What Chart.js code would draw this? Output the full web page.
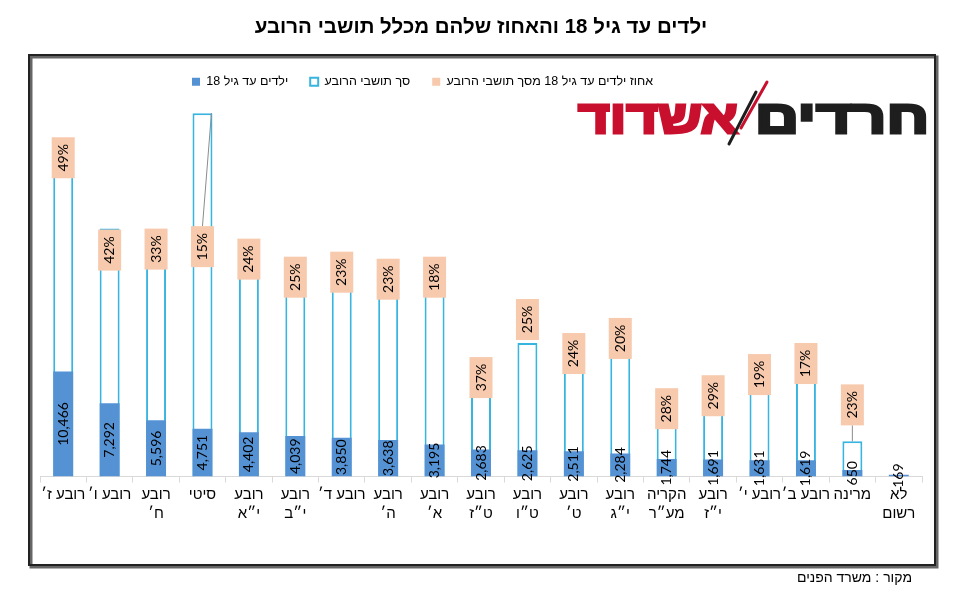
<!DOCTYPE html>
<html lang="he">
<head>
<meta charset="utf-8">
<title>ילדים עד גיל 18 והאחוז שלהם מכלל תושבי הרובע</title>
<script src="https://cdn.jsdelivr.net/npm/chart.js@4.4.0/dist/chart.umd.min.js"></script>
<style>
  html, body { margin: 0; padding: 0; background: #fff; }
  #wrap { position: relative; width: 959px; height: 606px; }
</style>
</head>
<body>
<div id="wrap"><canvas id="kidsChart"></canvas></div>
<script>
// categories, left to right as in the source
const categories = [
    'רובע ז׳', 'רובע ו׳', ['רובע', 'ח׳'], 'סיטי', ['רובע', 'י״א'], ['רובע', 'י״ב'],
    'רובע ד׳', ['רובע', 'ה׳'], ['רובע', 'א׳'], ['רובע', 'ט״ז'], ['רובע', 'ט״ו'],
    ['רובע', 'ט׳'], ['רובע', 'י״ג'], ['הקריה', 'מע״ר'], ['רובע', 'י״ז'],
    'רובע י׳', 'רובע ב׳', 'מרינה', ['לא', 'רשום']
];
// children up to age 18
const children = [10466, 7292, 5596, 4751, 4402, 4039, 3850, 3638, 3195, 2683,
                  2625, 2511, 2284, 1744, 1691, 1631, 1619, 650, 169];
// total residents
const residents = [33200, 24700, 24100, 36200, 23100, 21300, 21800, 21100, 21300, 11300,
                   13300, 13700, 15200, 8200, 7500, 11600, 12700, 3500, null];
// share of children, %
const shares = [49, 42, 33, 15, 24, 25, 23, 23, 18, 37,
                25, 24, 20, 28, 29, 19, 17, 23, null];

const BLUE = '#5592d4';
const CYAN = '#37b4e0';
const PEACH = '#f7c9ad';

// squeeze a word into a given width, right aligned
function fitText(ctx, text, right, baseline, width, color) {
    const w = ctx.measureText(text).width;
    ctx.save();
    ctx.translate(right, baseline);
    ctx.scale(width / w, 1);
    ctx.fillStyle = color;
    ctx.strokeStyle = color;
    ctx.lineWidth = 3;
    ctx.lineJoin = 'miter';
    ctx.fillText(text, 0, 0);
    ctx.strokeText(text, 0, 0);
    ctx.restore();
}

// frame, logo and white background behind everything
const framePlugin = {
    id: 'frame',
    beforeDraw(chart) {
        const ctx = chart.ctx;
        ctx.save();
        ctx.fillStyle = '#fff';
        ctx.fillRect(0, 0, chart.width, chart.height);
        // shadow then border
        ctx.strokeStyle = '#666';
        ctx.lineWidth = 3;
        ctx.strokeRect(31, 57, 906, 510);
        ctx.strokeStyle = '#222';
        ctx.lineWidth = 2;
        ctx.strokeRect(29, 55, 906, 510);

        // site logo
        ctx.textBaseline = 'alphabetic';
        ctx.textAlign = 'right';
        ctx.font = 'bold 47px "Liberation Sans", "DejaVu Sans", sans-serif';
        fitText(ctx, 'חרדים', 929, 133, 174, '#1e1e1e');
        fitText(ctx, 'אשדוד', 738, 133, 160, '#c8102e');
        ctx.lineCap = 'round';
        ctx.lineWidth = 3;
        ctx.strokeStyle = '#1e1e1e';
        ctx.beginPath();
        ctx.moveTo(756, 92);
        ctx.lineTo(729, 144);
        ctx.stroke();
        ctx.strokeStyle = '#c8102e';
        ctx.beginPath();
        ctx.moveTo(767, 82);
        ctx.lineTo(741, 128);
        ctx.stroke();
        ctx.restore();
    }
};

// move the legend to where the original sits
const legendShiftPlugin = {
    id: 'legendShift',
    afterLayout(chart) {
        const lg = chart.legend;
        if (lg) { lg.left += 130; lg.right += 130; }
    }
};

// value labels: children inside blue bars, shares in peach boxes
const valueLabelsPlugin = {
    id: 'valueLabels',
    afterDatasetsDraw(chart, args, opts) {
        const ctx = chart.ctx;
        const kids = chart.getDatasetMeta(0);
        const tot = chart.getDatasetMeta(1);
        ctx.save();
        ctx.textAlign = 'center';
        ctx.textBaseline = 'middle';
        ctx.font = '14px Lato, "Liberation Sans", sans-serif';
        ctx.fillStyle = '#000';

        kids.data.forEach((bar, i) => {
            const p = bar.getProps(['x', 'y', 'base'], true);
            ctx.save();
            ctx.translate(p.x, (p.y + p.base) / 2);
            ctx.rotate(-Math.PI / 2);
            ctx.fillText(children[i].toLocaleString('en-US'), 0, 0);
            ctx.restore();
        });

        tot.data.forEach((bar, i) => {
            if (shares[i] == null || residents[i] == null) return;
            const p = bar.getProps(['x', 'y', 'width'], true);
            const nudge = opts.nudge[i] !== undefined ? opts.nudge[i] : opts.defaultNudge;
            const top = p.y + nudge;
            const bw = 23, bh = 41;
            if (opts.leaders[i] !== undefined) {
                const edgeY = top > p.y ? top : top + bh;
                ctx.strokeStyle = '#8c8c8c';
                ctx.lineWidth = 1;
                ctx.beginPath();
                ctx.moveTo(p.x, edgeY);
                ctx.lineTo(p.x + opts.leaders[i] * p.width / 2, p.y);
                ctx.stroke();
            }
            ctx.fillStyle = PEACH;
            ctx.fillRect(p.x - bw / 2, top, bw, bh);
            ctx.fillStyle = '#000';
            ctx.save();
            ctx.translate(p.x, top + bh / 2);
            ctx.rotate(-Math.PI / 2);
            ctx.fillText(shares[i] + '%', 0, 0);
            ctx.restore();
        });
        ctx.restore();
    }
};

const sourcePlugin = {
    id: 'source',
    afterDraw(chart) {
        const ctx = chart.ctx;
        ctx.save();
        ctx.font = '14px "Liberation Sans", sans-serif';
        ctx.fillStyle = '#000';
        ctx.textAlign = 'right';
        ctx.textBaseline = 'middle';
        ctx.fillText('מקור : משרד הפנים', 912, 578);
        ctx.restore();
    }
};

document.addEventListener('DOMContentLoaded', () => {
    const ctx = document.getElementById('kidsChart').getContext('2d');
    new Chart(ctx, {
        data: {
            labels: categories,
            datasets: [
                {
                    type: 'bar',
                    label: 'ילדים עד גיל 18',
                    data: children,
                    backgroundColor: BLUE,
                    borderWidth: 0,
                    grouped: false,
                    barPercentage: 0.43,
                    categoryPercentage: 1
                },
                {
                    type: 'bar',
                    label: 'סך תושבי הרובע',
                    data: residents,
                    backgroundColor: '#fff',
                    borderColor: CYAN,
                    borderWidth: 2,
                    grouped: false,
                    barPercentage: 0.43,
                    categoryPercentage: 1
                },
                {
                    type: 'line',
                    label: 'אחוז ילדים עד גיל 18 מסך תושבי הרובע',
                    data: shares,
                    yAxisID: 'yPct',
                    showLine: false,
                    pointRadius: 0,
                    pointHoverRadius: 0,
                    backgroundColor: PEACH,
                    borderColor: PEACH,
                    borderWidth: 0
                }
            ]
        },
        options: {
            responsive: true,
            maintainAspectRatio: false,
            animation: false,
            layout: { padding: { left: 40, right: 37, bottom: 80 } },
            scales: {
                x: {
                    grid: { offset: true, drawOnChartArea: false, tickLength: 6, color: '#d9d9d9' },
                    border: { color: '#d9d9d9' },
                    ticks: {
                        autoSkip: false,
                        maxRotation: 0,
                        padding: 3,
                        color: '#000',
                        font: { family: '"Liberation Sans", sans-serif', size: 15, lineHeight: 1.25 }
                    }
                },
                y: { display: false, min: 0, max: 37700 },
                yPct: { display: false, min: 0, max: 100 }
            },
            plugins: {
                title: {
                    display: true,
                    text: 'ילדים עד גיל 18 והאחוז שלהם מכלל תושבי הרובע',
                    color: '#000',
                    font: { family: '"Liberation Sans", sans-serif', size: 20.5, weight: 'bold' },
                    padding: { top: 15, bottom: 14 }
                },
                legend: {
                    align: 'start',
                    labels: {
                        color: '#000',
                        font: { family: '"Liberation Sans", sans-serif', size: 12.5 },
                        boxWidth: 8,
                        boxHeight: 8,
                        padding: 22
                    }
                },
                valueLabels: {
                    defaultNudge: -6,
                    nudge: { 1: 1, 3: 113, 10: -44, 14: -26, 17: -57 },
                    leaders: { 3: 0.9, 17: 0 }
                }
            }
        },
        plugins: [framePlugin, legendShiftPlugin, valueLabelsPlugin, sourcePlugin]
    });
});
</script>
</body>
</html>
